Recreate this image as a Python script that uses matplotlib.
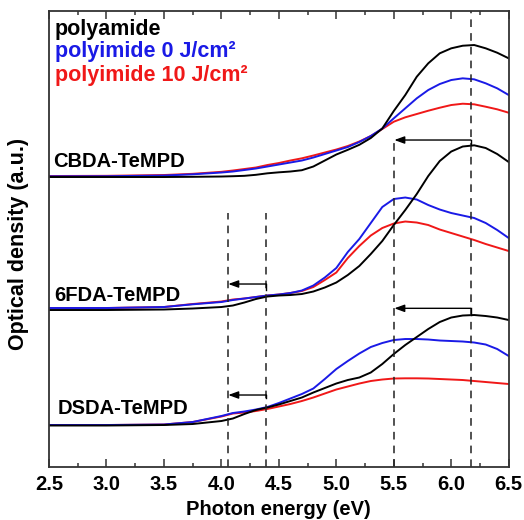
import numpy as np
import matplotlib
matplotlib.use("Agg")
import matplotlib.pyplot as plt
from matplotlib.ticker import MultipleLocator, NullLocator

plt.rcParams['font.family'] = ['Liberation Sans', 'DejaVu Sans']
plt.rcParams['font.weight'] = 'bold'

# photon energy grid (eV)
energy = [2.5, 3.0, 3.5, 3.75,
          4.0, 4.1, 4.2, 4.3, 4.4, 4.5, 4.6, 4.7, 4.8, 4.9,
          5.0, 5.1, 5.2, 5.3, 5.4, 5.5, 5.6, 5.7, 5.8, 5.9,
          6.0, 6.1, 6.2, 6.3, 6.4, 6.5]

# CBDA-TeMPD
cbda_pa = [0, 0, 0, 0.002, 0.005, 0.008, 0.012, 0.022, 0.037, 0.047, 0.055, 0.068, 0.105, 0.165,
           0.225, 0.272, 0.322, 0.39, 0.485, 0.66, 0.82, 1.003, 1.137, 1.237,
           1.287, 1.313, 1.32, 1.287, 1.243, 1.187]
cbda_pi0 = [0.007, 0.008, 0.015, 0.027, 0.045, 0.055, 0.07, 0.085, 0.105, 0.125, 0.145, 0.165, 0.195, 0.23,
            0.265, 0.30, 0.35, 0.41, 0.485, 0.587, 0.687, 0.787, 0.87, 0.93,
            0.97, 0.987, 0.977, 0.937, 0.887, 0.82]
cbda_pi10 = [0.01, 0.012, 0.02, 0.032, 0.052, 0.065, 0.08, 0.095, 0.12, 0.14, 0.165, 0.187, 0.215, 0.245,
             0.275, 0.31, 0.355, 0.41, 0.48, 0.553, 0.597, 0.63, 0.663, 0.693,
             0.72, 0.733, 0.727, 0.703, 0.677, 0.643]

# 6FDA-TeMPD
fda_pa = [0, 0, 0.005, 0.015, 0.03, 0.045, 0.075, 0.11, 0.135, 0.145, 0.15, 0.16, 0.185, 0.225,
          0.275, 0.35, 0.44, 0.56, 0.69, 0.85, 1.0, 1.16, 1.34, 1.49,
          1.585, 1.635, 1.647, 1.62, 1.56, 1.48]
fda_pi0 = [0.02, 0.02, 0.03, 0.057, 0.08, 0.10, 0.115, 0.13, 0.145, 0.155, 0.17, 0.195, 0.245, 0.325,
           0.42, 0.58, 0.71, 0.87, 1.03, 1.11, 1.125, 1.105, 1.05, 1.005,
           0.97, 0.945, 0.92, 0.87, 0.80, 0.72]
fda_pi10 = [0.02, 0.02, 0.03, 0.06, 0.085, 0.105, 0.115, 0.13, 0.145, 0.155, 0.17, 0.19, 0.23, 0.30,
            0.375, 0.52, 0.64, 0.745, 0.82, 0.865, 0.885, 0.875, 0.85, 0.805,
            0.77, 0.735, 0.70, 0.66, 0.625, 0.59]

# DSDA-TeMPD
dsda_pa = [0.005, 0.005, 0.01, 0.02, 0.05, 0.075, 0.12, 0.16, 0.185, 0.215, 0.25, 0.285, 0.335, 0.38,
           0.425, 0.46, 0.485, 0.535, 0.62, 0.72, 0.81, 0.89, 0.97, 1.04,
           1.085, 1.105, 1.11, 1.10, 1.085, 1.06]
dsda_pi0 = [0.01, 0.01, 0.015, 0.04, 0.10, 0.13, 0.145, 0.165, 0.19, 0.23, 0.275, 0.32, 0.375, 0.47,
            0.57, 0.65, 0.725, 0.79, 0.83, 0.86, 0.87, 0.87, 0.865, 0.855,
            0.85, 0.845, 0.835, 0.815, 0.77, 0.70]
dsda_pi10 = [0.01, 0.01, 0.015, 0.04, 0.095, 0.125, 0.135, 0.15, 0.17, 0.195, 0.22, 0.25, 0.285, 0.325,
             0.365, 0.395, 0.425, 0.45, 0.465, 0.475, 0.477, 0.477, 0.475, 0.47,
             0.465, 0.46, 0.45, 0.44, 0.43, 0.42]

# vertical stacking offsets
samples = ["CBDA-TeMPD", "6FDA-TeMPD", "DSDA-TeMPD"]
offsets = [2.90, 1.57, 0.41]
spectra = [(cbda_pa, cbda_pi0, cbda_pi10),
           (fda_pa, fda_pi0, fda_pi10),
           (dsda_pa, dsda_pi0, dsda_pi10)]

series_names = ["polyamide", "polyimide 0 J/cm²", "polyimide 10 J/cm²"]
colors = ["black", "#1a1ae6", "#f01818"]

# band positions marked with dashed lines (eV)
peak_e = 6.17
shift_e = 5.505
edge_lo = 4.06
edge_hi = 4.39

fig = plt.figure(figsize=(5.24, 5.20), dpi=100)
ax = fig.add_axes([0.0935, 0.1019, 0.8773, 0.8769])

x = np.array(energy)
for off, curves in zip(offsets, spectra):
    # red first, black on top
    for vals, c in reversed(list(zip(curves, colors))):
        ax.plot(x, np.array(vals) + off, color=c, lw=1.4, solid_joinstyle="round")

ax.set_xlim(2.5, 6.5)
ax.set_ylim(0, 4.56)

dash = dict(color="#222222", lw=1.1, linestyle=(0, (5, 4)))
ax.plot([peak_e, peak_e], [0, 4.56], **dash)
ax.plot([shift_e, shift_e], [0, 3.27], **dash)
ax.plot([edge_lo, edge_lo], [0, 2.54], **dash)
ax.plot([edge_hi, edge_hi], [0, 2.54], **dash)

# arrows showing the band shift
arrows = [(peak_e, shift_e, 3.27, 3.22),
          (peak_e, shift_e, 1.587, 1.52),
          (edge_hi, edge_lo, 1.83, 1.77),
          (edge_hi, edge_lo, 0.72, 0.69)]
for x0, x1, ya, ys in arrows:
    ax.plot([x0, x0], [ys, ya], color="black", lw=1.0)
    ax.annotate("", xy=(x1, ya), xytext=(x0, ya),
                arrowprops=dict(arrowstyle="-|>,head_length=0.6,head_width=0.22",
                                color="black", lw=1.0, shrinkA=0, shrinkB=0))

# legend as coloured text
legend_y = [4.38, 4.155, 3.915]
for name, c, yy in zip(series_names, colors, legend_y):
    ax.text(2.552, yy, name, color=c, fontsize=15.5, fontweight="bold", va="center", ha="left")

label_pos = [(2.537, 3.06), (2.546, 1.715), (2.572, 0.587)]
for name, (lx, ly) in zip(samples, label_pos):
    ax.text(lx, ly, name, fontsize=14.5, fontweight="bold", va="center", ha="left")

ax.xaxis.set_major_locator(MultipleLocator(0.5))
ax.xaxis.set_minor_locator(MultipleLocator(0.25))
ax.yaxis.set_major_locator(NullLocator())
ax.tick_params(axis="x", which="both", direction="in", top=True, bottom=True,
               width=1.1, color="#333333", labelsize=14.5, pad=6)
ax.tick_params(axis="x", which="major", length=5.5)
ax.tick_params(axis="x", which="minor", length=3)
for lbl in ax.get_xticklabels():
    lbl.set_fontweight("bold")
for sp in ax.spines.values():
    sp.set_linewidth(1.3)
    sp.set_color("#333333")

ax.set_xlabel("Photon energy (eV)", fontsize=14.5, fontweight="bold", labelpad=4)
ax.set_ylabel("Optical density (a.u.)", fontsize=15.5, fontweight="bold")
ax.yaxis.set_label_coords(-0.043, 0.49)

fig.savefig("out.png", dpi=100)
